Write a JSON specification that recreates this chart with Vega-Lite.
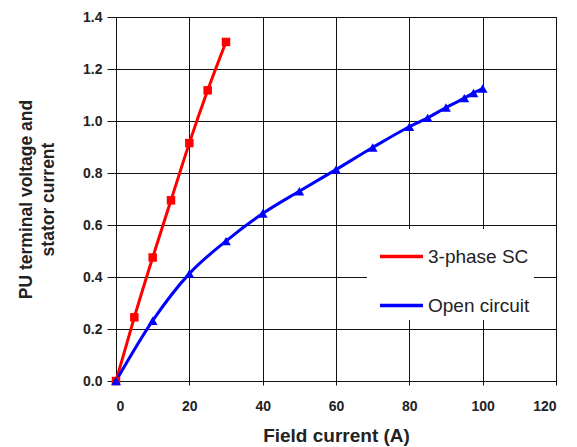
{
  "$schema": "https://vega.github.io/schema/vega-lite/v6.json",
  "width": 440,
  "height": 364,
  "autosize": {"type": "none"},
  "padding": {"left": 116, "top": 17, "right": 21, "bottom": 66},
  "background": "white",
  "config": {
    "font": "Liberation Sans",
    "view": {"stroke": "black", "strokeWidth": 1},
    "axis": {
      "gridColor": "#111",
      "gridOpacity": 1,
      "gridWidth": 1,
      "domainColor": "#111",
      "domainWidth": 1,
      "tickColor": "#111",
      "labelFont": "Liberation Sans",
      "labelFontSize": 14,
      "labelFontWeight": "bold",
      "labelColor": "#222",
      "titleFont": "Liberation Sans",
      "titleFontWeight": "bold",
      "titleColor": "#222"
    }
  },
  "data": {
    "values": [
      {"series": "3-phase SC", "current": 0, "value": 0.0},
      {"series": "3-phase SC", "current": 5, "value": 0.245},
      {"series": "3-phase SC", "current": 10, "value": 0.475},
      {"series": "3-phase SC", "current": 15, "value": 0.695},
      {"series": "3-phase SC", "current": 20, "value": 0.915},
      {"series": "3-phase SC", "current": 25, "value": 1.118},
      {"series": "3-phase SC", "current": 30, "value": 1.304},
      {"series": "Open circuit", "current": 0, "value": 0.0},
      {"series": "Open circuit", "current": 10, "value": 0.232},
      {"series": "Open circuit", "current": 20, "value": 0.413},
      {"series": "Open circuit", "current": 30, "value": 0.538},
      {"series": "Open circuit", "current": 40, "value": 0.644},
      {"series": "Open circuit", "current": 50, "value": 0.73},
      {"series": "Open circuit", "current": 60, "value": 0.813},
      {"series": "Open circuit", "current": 70, "value": 0.898},
      {"series": "Open circuit", "current": 80, "value": 0.978},
      {"series": "Open circuit", "current": 85, "value": 1.012},
      {"series": "Open circuit", "current": 90, "value": 1.052},
      {"series": "Open circuit", "current": 95, "value": 1.088},
      {"series": "Open circuit", "current": 97.5, "value": 1.108},
      {"series": "Open circuit", "current": 100, "value": 1.125}
    ]
  },
  "encoding": {
    "x": {
      "field": "current",
      "type": "quantitative",
      "scale": {"domain": [0, 120], "nice": false},
      "axis": {
        "values": [0, 20, 40, 60, 80, 100, 120],
        "title": "Field current (A)",
        "titleFontSize": 19,
        "tickSize": 4,
        "labelPadding": 14,
        "titlePadding": 13
      }
    },
    "y": {
      "field": "value",
      "type": "quantitative",
      "scale": {"domain": [0, 1.4], "nice": false},
      "axis": {
        "values": [0, 0.2, 0.4, 0.6, 0.8, 1.0, 1.2, 1.4],
        "format": ".1f",
        "title": ["PU terminal voltage and", "stator current"],
        "titleFontSize": 17.5,
        "titleLineHeight": 22,
        "titlePadding": 25,
        "tickSize": 9,
        "labelPadding": 5
      }
    },
    "color": {
      "field": "series",
      "type": "nominal",
      "scale": {"domain": ["3-phase SC", "Open circuit"], "range": ["#ff0000", "#0000ff"]}
    }
  },
  "layer": [
    {
      "mark": {"type": "line", "strokeWidth": 3, "interpolate": "monotone"},
      "encoding": {
        "color": {
          "field": "series",
          "type": "nominal",
          "legend": {
            "title": null,
            "orient": "none",
            "legendX": 251,
            "legendY": 212,
            "fillColor": "white",
            "strokeColor": null,
            "padding": 4,
            "rowPadding": 15,
            "symbolOffset": 7,
            "labelFontSize": 19,
            "labelColor": "#222",
            "labelFont": "Liberation Sans",
            "labelOffset": 3,
            "labelLimit": 300,
            "symbolType": "stroke",
            "symbolSize": 1849,
            "symbolStrokeWidth": 3.5
          }
        }
      }
    },
    {
      "transform": [{"filter": "datum.series === '3-phase SC'"}],
      "mark": {"type": "point", "filled": true, "opacity": 1, "size": 72, "shape": "square"},
      "encoding": {
        "color": {"field": "series", "type": "nominal", "legend": null}
      }
    },
    {
      "transform": [{"filter": "datum.series === 'Open circuit'"}],
      "mark": {"type": "point", "filled": true, "opacity": 1, "size": 95, "shape": "triangle-up"},
      "encoding": {
        "color": {"field": "series", "type": "nominal", "legend": null}
      }
    }
  ]
}
